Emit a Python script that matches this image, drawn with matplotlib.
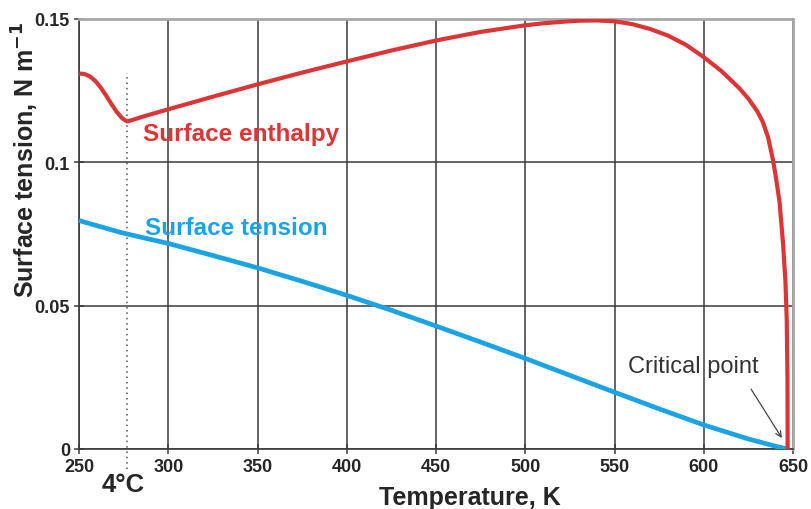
import matplotlib
matplotlib.use("Agg")
import matplotlib.pyplot as plt

plt.rcParams['font.family'] = ['Liberation Sans', 'DejaVu Sans']

# Surface enthalpy (red)
T_enth = [250, 253, 256, 259, 262, 265, 268, 271, 274, 276, 277, 279, 285, 300,
          325, 350, 375, 400, 425, 450, 475, 500, 510, 520, 530, 540, 550, 560,
          570, 580, 590, 600, 610, 620, 625, 630, 633, 636, 638.5, 640, 642.5,
          644.5, 645.8, 646.5, 646.9, 647]
H_enth = [0.1310, 0.1308, 0.1300, 0.1285, 0.1262, 0.1235, 0.1205, 0.1177,
          0.1155, 0.1146, 0.1143, 0.1146, 0.1158, 0.1185, 0.1229, 0.1272,
          0.1313, 0.1352, 0.1390, 0.1425, 0.1455, 0.1478, 0.1485, 0.1490,
          0.1494, 0.1495, 0.1492, 0.1482, 0.1465, 0.1442, 0.1410, 0.1367,
          0.1318, 0.1258, 0.1222, 0.1178, 0.1142, 0.1088, 0.1017, 0.0965,
          0.0860, 0.0710, 0.0580, 0.0450, 0.0250, 0.0]

# Surface tension (blue)
T_tens = [250, 273, 277, 300, 325, 350, 375, 400, 425, 450, 475, 500, 525, 550,
          575, 600, 625, 640, 647]
G_tens = [0.0797, 0.0756, 0.0750, 0.0717, 0.0675, 0.0632, 0.0585, 0.0536,
          0.0484, 0.0429, 0.0373, 0.0316, 0.0257, 0.0198, 0.0140, 0.0084,
          0.0035, 0.0010, 0.0]

x_ticks = [250, 300, 350, 400, 450, 500, 550, 600, 650]
y_ticks = [0, 0.05, 0.1, 0.15]
y_tick_labels = ['0', '0.05', '0.1', '0.15']

red = '#DC3535'
blue = '#1CA3E3'
dark = '#262626'

fig = plt.figure(figsize=(8.11, 5.10), dpi=100)
ax = fig.add_axes([79/811, 1-450/510, (793-79)/811, (450-20)/510])

ax.set_xlim(250, 650)
ax.set_ylim(0, 0.15)
ax.set_xticks(x_ticks)
ax.set_yticks(y_ticks)
ax.set_yticklabels(y_tick_labels)
ax.grid(True, color='#3a3a3a', linewidth=1.1, zorder=0)
for s in ax.spines.values():
    s.set_color('#a8a8a8')
    s.set_linewidth(2.0)
ax.spines['left'].set_color('#3a3a3a')
ax.spines['left'].set_linewidth(1.2)
ax.spines['bottom'].set_color('#3a3a3a')
ax.spines['bottom'].set_linewidth(1.2)
ax.tick_params(axis='both', direction='inout', length=7, width=1.1, color='#3a3a3a',
               labelsize=13, pad=3)
for lab in ax.get_xticklabels() + ax.get_yticklabels():
    lab.set_fontweight('bold')
    lab.set_color(dark)

# dotted 4 C line
ax.plot([277, 277], [-0.007, 0.131], linestyle=(0, (1, 2.5)), color='#555555',
        linewidth=1.1, clip_on=False, zorder=2)

ax.plot(T_tens, G_tens, color=blue, linewidth=3.4, zorder=3, solid_capstyle='butt')
ax.plot(T_enth, H_enth, color=red, linewidth=3.0, zorder=4, solid_capstyle='butt',
        solid_joinstyle='round')

ax.text(286, 0.1100, 'Surface enthalpy', color=red, fontsize=17.5, fontweight='bold',
        va='center', ha='left')
ax.text(287, 0.0772, 'Surface tension', color=blue, fontsize=17.5, fontweight='bold',
        va='center', ha='left')
ax.text(594, 0.029, 'Critical point', color='#333333', fontsize=17, va='center',
        ha='center')
ax.annotate('', xy=(644.6, 0.0030), xytext=(625.7, 0.0217),
            arrowprops=dict(arrowstyle='->', color='#444444', lw=0.9,
                            mutation_scale=10))

ax.text(275, -0.0147, '4°C', ha='center', va='baseline',
        fontsize=18.5, fontweight='bold', color=dark)

fig.text(470/811, 1-505/510, 'Temperature, K', fontsize=18, fontweight='bold',
         color=dark, ha='center', va='baseline')
fig.text(25/811, 1-160/510, 'Surface tension, N m$^{\\mathbf{-1}}$', fontsize=18,
         fontweight='bold', color=dark, ha='center', va='center', rotation=90)

fig.savefig('out.png', dpi=100)
